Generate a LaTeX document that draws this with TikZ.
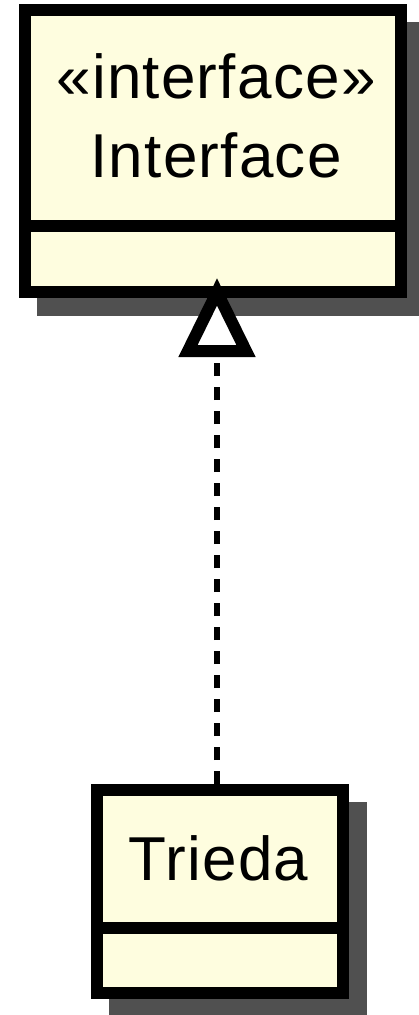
\documentclass[tikz,border=0pt]{standalone}
\usepackage{fontspec}
\setmainfont{Liberation Sans}
\definecolor{boxfill}{HTML}{FEFDDF}
\definecolor{shadowgray}{HTML}{505050}
\begin{document}
\begin{tikzpicture}[x=1pt,y=-1pt,
  umlbox/.style={draw=black, fill=boxfill, line width=12pt, rectangle, inner sep=0pt},
  shadowbox/.style={fill=shadowgray},
  label/.style={anchor=base, inner sep=0pt, font=\fontsize{62}{70}\selectfont\addfontfeature{LetterSpace=2}},
  divider/.style={line width=12pt},
  realize/.style={line width=6pt, dash pattern=on 13pt off 11pt},
  tri/.style={line width=12pt, fill=white, line join=miter}]
\useasboundingbox (0,0) rectangle (419,1015);
% shadows
\fill[shadowgray] (37,22) rectangle (419,316);
\fill[shadowgray] (109,802) rectangle (367,1015);
% boxes
\node[umlbox, minimum width=376pt, minimum height=282pt] (iface) at (213,151) {};
\node[umlbox, minimum width=246pt, minimum height=203pt] (trieda) at (220,891.5) {};
\draw[divider] (iface.west |- 0,225.5) -- (iface.east |- 0,225.5);
\draw[divider] (trieda.west |- 0,927.5) -- (trieda.east |- 0,927.5);
% labels
\node[label] (stereo) at (216,98) {«interface»};
\node[label] (iname) at (216,177) {Interface};
\node[label] (tname) at (218.5,880) {Trieda};
% realization
\coordinate (apex) at (217,292);
\coordinate (base) at (217,351);
\coordinate (bl) at (188,351);
\coordinate (br) at (246,351);
\draw[realize] (trieda.north -| apex) -- (base);
\draw[tri] (apex) -- (br) -- (bl) -- cycle;
\end{tikzpicture}
\end{document}
